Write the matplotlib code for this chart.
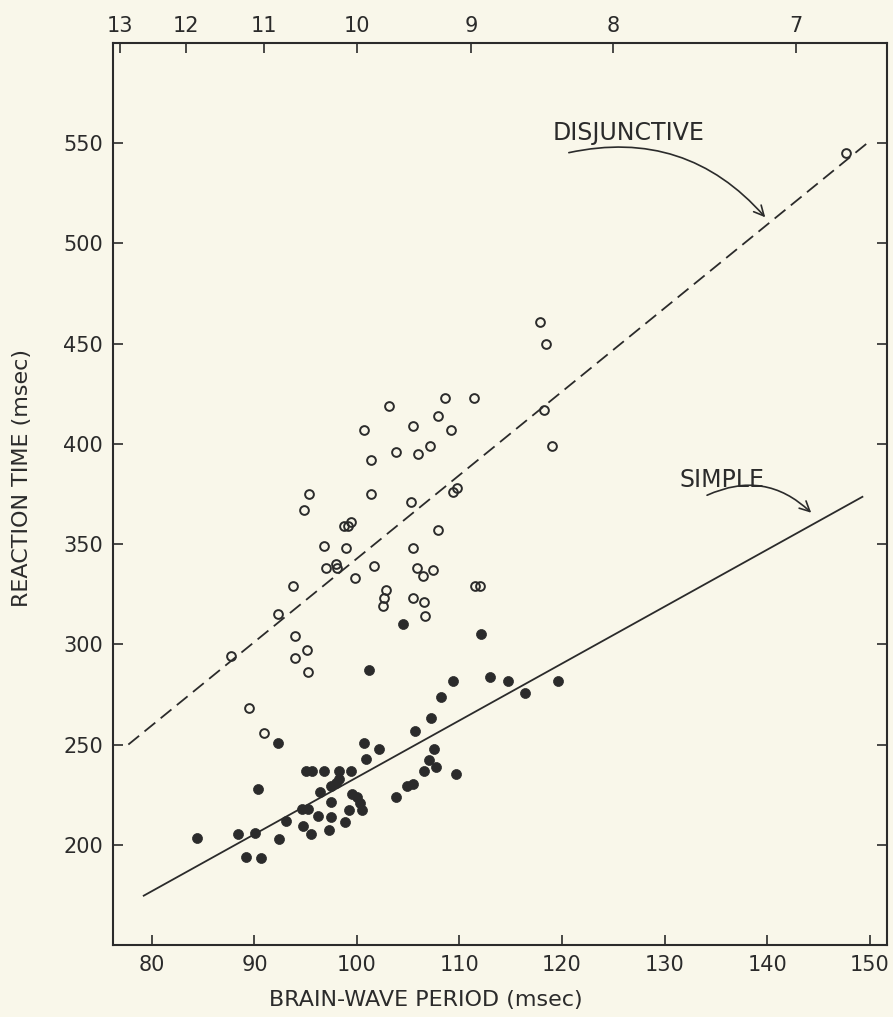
import matplotlib

matplotlib.use("Agg")
import matplotlib.pyplot as plt

# Brain-wave period (msec) and reaction time (msec) per subject
disj_period = [103.15, 108.6, 111.4, 107.9, 105.5, 109.2, 100.7, 103.8, 106.0, 107.1,
               101.4, 95.3, 94.8, 101.4, 109.4, 109.8, 105.3, 107.9, 98.7, 99.1,
               99.4, 96.8, 98.9, 105.5, 97.0, 98.0, 98.1, 101.7, 99.8, 105.9,
               106.4, 107.4, 93.8, 111.5, 112.0, 102.8, 102.6, 102.5, 105.5, 106.5,
               106.6, 92.3, 94.0, 95.1, 94.0, 95.2, 87.7, 89.5, 90.9, 117.9,
               118.4, 118.2, 119.0, 147.7]
disj_rt = [419, 423, 423, 414, 409, 407, 407, 396, 395, 399,
           392, 375, 367, 375, 376, 378, 371, 357, 359, 359,
           361, 349, 348, 348, 338, 340, 338, 339, 333, 338,
           334, 337, 329, 329, 329, 327, 323, 319, 323, 321,
           314, 315, 304, 297, 293, 286, 294, 268, 256, 461,
           450, 417, 399, 545]

simple_period = [84.4, 88.4, 90.1, 89.2, 90.6, 90.3, 92.3, 92.4, 93.1, 94.7,
                 95.5, 94.6, 95.2, 95.0, 95.6, 96.8, 98.2, 99.4, 96.4, 97.5,
                 98.0, 98.2, 96.2, 97.5, 97.3, 97.5, 98.8, 99.2, 99.5, 100.0,
                 100.3, 100.5, 100.7, 102.1, 100.9, 101.2, 103.8, 104.9, 105.5, 105.7,
                 106.5, 107.2, 107.5, 107.0, 107.7, 108.2, 109.4, 109.7, 113.0, 114.7,
                 116.4, 119.6, 104.5, 112.1]
simple_rt = [203.5, 205.5, 206, 194, 193.5, 228, 251, 203, 212, 209.5,
             205.5, 218, 218, 237, 237, 237, 237, 237, 226.5, 229.5,
             231, 233, 214.5, 214, 207.5, 221.5, 211.5, 217.5, 225.5, 224,
             221, 217.5, 251, 248, 243, 287, 224, 229.5, 230.5, 257,
             237, 263, 248, 242.5, 239, 273.5, 281.5, 235.5, 283.5, 281.5,
             275.5, 281.5, 310, 305]

# fitted lines (end points)
disj_fit_x = [77.7, 150.0]
disj_fit_y = [250, 551]
simple_fit_x = [79.2, 149.3]
simple_fit_y = [174.6, 373.6]

x_ticks = [80, 90, 100, 110, 120, 130, 140, 150]
y_ticks = [200, 250, 300, 350, 400, 450, 500, 550]
freq_ticks = [13, 12, 11, 10, 9, 8, 7]

paper = "#f9f7ea"
ink = "#2b2b2b"

plt.rcParams["font.family"] = ["DejaVu Sans"]
plt.rcParams["lines.scale_dashes"] = False

fig = plt.figure(figsize=(8.93, 10.17), dpi=100, facecolor=paper)
ax = fig.add_axes([0.1265, 0.0708, 0.8668, 0.8869], facecolor=paper)

ax.plot(disj_fit_x, disj_fit_y, color=ink, lw=1.3, dashes=(10, 5))
ax.plot(simple_fit_x, simple_fit_y, color=ink, lw=1.3)

ax.plot(disj_period, disj_rt, "o", ms=6.3, mfc="none", mec=ink, mew=1.4)
ax.plot(simple_period, simple_rt, "o", ms=7.2, mfc=ink, mec=ink, mew=0.5)

ax.set_xlim(76.2, 151.7)
ax.set_ylim(150, 600)
ax.set_xticks(x_ticks)
ax.set_yticks(y_ticks)
ax.tick_params(direction="in", length=7, width=1.2, colors=ink, labelsize=15,
               pad=7, right=True)
for s in ax.spines.values():
    s.set_linewidth(1.5)
    s.set_color(ink)

# frequency scale along the top (Hz = 1000 / period)
ax_top = ax.twiny()
ax_top.set_xlim(ax.get_xlim())
ax_top.set_xticks([1000.0 / f for f in freq_ticks])
ax_top.set_xticklabels([str(f) for f in freq_ticks])
ax_top.tick_params(direction="in", length=7, width=1.2, colors=ink, labelsize=15, pad=5)
for s in ax_top.spines.values():
    s.set_visible(False)

ax.set_xlabel("BRAIN-WAVE PERIOD (msec)", fontsize=16, color=ink)
ax.xaxis.set_label_coords(0.404, -0.061)
ax.xaxis.label.set_va("center")
ax.set_ylabel("REACTION TIME (msec)", fontsize=16, color=ink)
ax.yaxis.set_label_coords(-0.1176, 0.518)
ax.yaxis.label.set_va("center")

ax.annotate("DISJUNCTIVE", xy=(140.0, 512), xytext=(119.1, 555),
            fontsize=17, color=ink, va="center", ha="left")
ax.annotate("", xy=(140.0, 512), xytext=(120.4, 545),
            arrowprops=dict(arrowstyle="->", color=ink, lw=1.2,
                            connectionstyle="arc3,rad=-0.3", mutation_scale=18))
ax.annotate("SIMPLE", xy=(144.5, 365), xytext=(131.5, 382),
            fontsize=17, color=ink, va="center", ha="left")
ax.annotate("", xy=(144.5, 364.7), xytext=(133.9, 373.8),
            arrowprops=dict(arrowstyle="->", color=ink, lw=1.2,
                            connectionstyle="arc3,rad=-0.35", mutation_scale=18))

fig.savefig("out.png", dpi=100, facecolor=paper)
